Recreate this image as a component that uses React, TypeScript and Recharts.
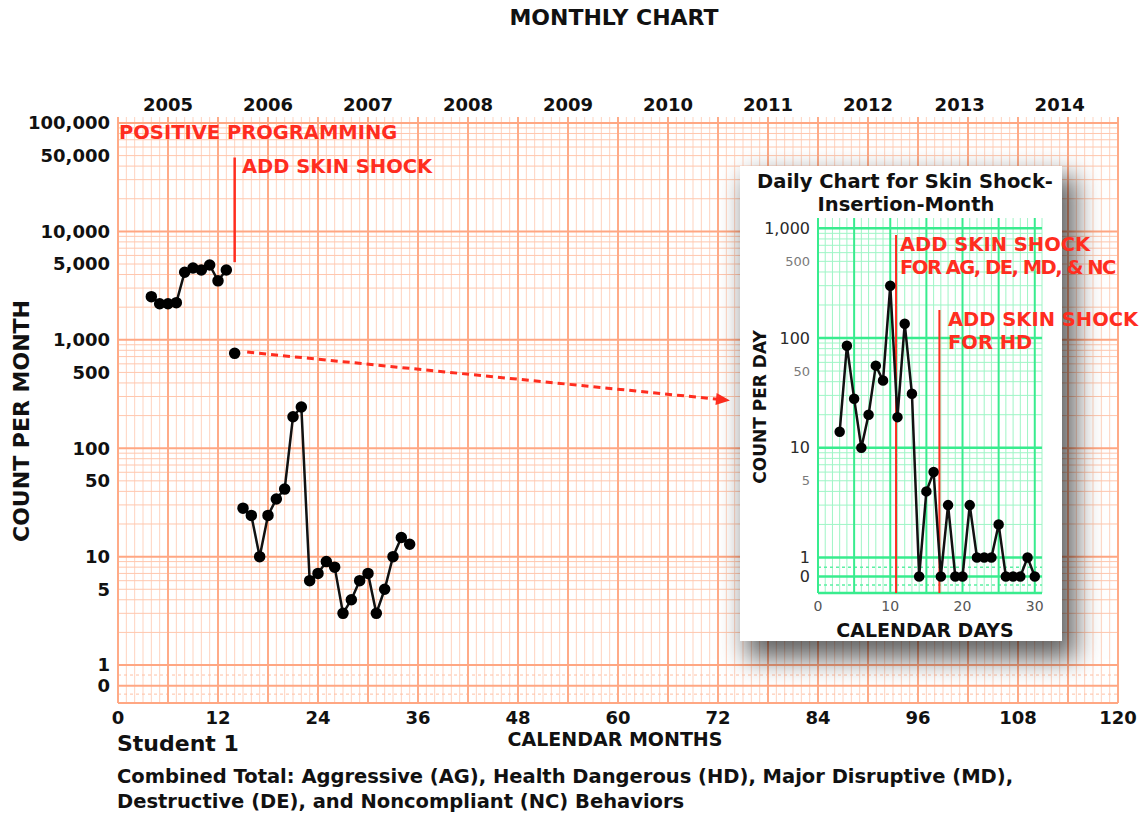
import React from "react";
import {
  ComposedChart,
  Line,
  XAxis,
  YAxis,
  CartesianGrid,
  ReferenceLine,
  ReferenceDot,
} from "recharts";

const FONT = '"DejaVu Sans", sans-serif';
const RED = "#ff2d1f";

// ---- monthly chart data ----
const yearLabels = ["2005", "2006", "2007", "2008", "2009", "2010", "2011", "2012", "2013", "2014"];
const yearTickMonths = [6, 18, 30, 42, 54, 66, 78, 90, 101, 113];
const monthTicks = [0, 12, 24, 36, 48, 60, 72, 84, 96, 108, 120];
const countTickValues = [0, 1, 5, 10, 50, 100, 500, 1000, 5000, 10000, 50000, 100000];

const baselineMonths = [4, 5, 6, 7, 8, 9, 10, 11, 12, 13];
const baselineCounts = [2500, 2150, 2150, 2200, 4200, 4600, 4400, 4900, 3500, 4400];
const insertionMonths = [14];
const insertionCounts = [750];
const shockMonths = [15, 16, 17, 18, 19, 20, 21, 22, 23, 24, 25, 26, 27, 28, 29, 30, 31, 32, 33, 34, 35];
const shockCounts = [28, 24, 10, 24, 34, 42, 195, 240, 6, 7, 9, 8, 3, 4, 6, 7, 3, 5, 10, 15, 13];

// ---- daily (inset) chart data ----
const dayTicks = [0, 10, 20, 30];
const dayCountTicks = [0, 1, 5, 10, 50, 100, 500, 1000];
const days = [3, 4, 5, 6, 7, 8, 9, 10, 11, 12, 13, 14, 15, 16, 17, 18, 19, 20, 21, 22, 23, 24, 25, 26, 27, 28, 29, 30];
const dayCounts = [14, 85, 28, 10, 20, 56, 41, 300, 19, 135, 31, 0, 4, 6, 0, 3, 0, 0, 3, 1, 1, 1, 2, 0, 0, 0, 1, 0];

// log axis with an extra row below 1 for zero counts
const MAIN_ZERO = -0.19;
const MAIN_DOMAIN: [number, number] = [-0.35, 5.055];
const DAY_ZERO = -0.173;
const DAY_DOMAIN: [number, number] = [-0.324, 3.094];

const logRow = (zero: number) => (v: number) => (v > 0 ? Math.log10(v) : zero);
const toMainY = logRow(MAIN_ZERO);
const toDayY = logRow(DAY_ZERO);

const baselineData = baselineMonths.map((m, i) => ({ month: m, y: toMainY(baselineCounts[i]) }));
const insertionData = insertionMonths.map((m, i) => ({ month: m, y: toMainY(insertionCounts[i]) }));
const shockData = shockMonths.map((m, i) => ({ month: m, y: toMainY(shockCounts[i]) }));
const dayData = days.map((d, i) => ({ day: d, y: toDayY(dayCounts[i]) }));

const mainTickPos = countTickValues.map(toMainY);
const dayTickPos = dayCountTicks.map(toDayY);

const fmtCount = (positions: number[], values: number[]) => (v: number) => {
  const i = positions.findIndex((p) => Math.abs(p - v) < 1e-9);
  return i >= 0 ? values[i].toLocaleString("en-US") : "";
};

// grid line helpers (log paper)
const minorLog = (decades: number) => {
  const out: number[] = [];
  for (let d = 0; d < decades; d++) for (let k = 2; k <= 9; k++) out.push(d + Math.log10(k));
  return out;
};
const steps = (from: number, to: number, step: number) => {
  const out: number[] = [];
  for (let v = from; v <= to; v += step) out.push(v);
  return out;
};

const mainMajorX = steps(0, 120, 6);
const mainMinorX = steps(0, 120, 1).filter((m) => m % 6 !== 0);
const mainMajorY = [0, 1, 2, 3, 4, 5];
const mainMinorY = minorLog(5);

const dayMajorX = steps(0, 30, 5);
const dayMinorX = steps(0, 31, 1).filter((d) => d % 5 !== 0);
const dayMajorY = [0, 1, 2, 3];
const dayMinorY = minorLog(3);

const arrowHead = (props: any) => {
  const { cx, cy } = props;
  const a = Math.atan2(46, 477);
  const ux = Math.cos(a), uy = Math.sin(a);
  const nx = -uy, ny = ux;
  const tip = [cx + 7 * ux, cy + 7 * uy];
  const b1 = [cx - 7 * ux + 6 * nx, cy - 7 * uy + 6 * ny];
  const b2 = [cx - 7 * ux - 6 * nx, cy - 7 * uy - 6 * ny];
  return <polygon points={`${tip.join(",")} ${b1.join(",")} ${b2.join(",")}`} fill={RED} />;
};

const DayTick = (props: any) => {
  const { x, y, payload } = props;
  const i = dayTickPos.findIndex((p) => Math.abs(p - payload.value) < 1e-9);
  const v = dayCountTicks[i];
  const minor = v === 5 || v === 50 || v === 500;
  return (
    <text
      x={x}
      y={y}
      dy="0.355em"
      textAnchor="end"
      fontFamily={FONT}
      fontSize={minor ? 13 : 16}
      fill={minor ? "#7a7a7a" : "#2a2a2a"}
    >
      {v.toLocaleString("en-US")}
    </text>
  );
};

function Txt({
  x,
  y,
  size,
  color = "#111",
  center = false,
  rotate = false,
  spacing = 0,
  children,
}: {
  x: number;
  y: number;
  size: number;
  color?: string;
  center?: boolean;
  rotate?: boolean;
  spacing?: number;
  children: React.ReactNode;
}) {
  let transform = center ? "translate(-50%, -50%)" : "translateY(-50%)";
  if (rotate) transform = "translate(-50%, -50%) rotate(-90deg)";
  return (
    <div
      style={{
        position: "absolute",
        left: x,
        top: y,
        transform,
        fontFamily: FONT,
        fontWeight: "bold",
        fontSize: size,
        lineHeight: 1,
        color,
        whiteSpace: "nowrap",
        letterSpacing: spacing,
        zIndex: 5,
      }}
    >
      {children}
    </div>
  );
}

const boldTick = { fontFamily: FONT, fontWeight: "bold", fontSize: 18, fill: "#111" };

export default function App() {
  return (
    <div style={{ position: "absolute", left: 0, top: 0, width: 1147, height: 815, background: "#fff" }}>
      <ComposedChart width={1147} height={815} margin={{ top: 87, right: 29, bottom: 82, left: 0 }}>
        <CartesianGrid horizontal={false} verticalValues={mainMinorX} stroke="#ffd3bf" strokeWidth={1} />
        <CartesianGrid vertical={false} horizontalValues={mainMinorY} stroke="#ffc7ae" strokeWidth={1} />
        <CartesianGrid
          vertical={false}
          horizontalValues={[-0.092, -0.268]}
          stroke="#ffc0a4"
          strokeWidth={1}
          strokeDasharray="3 3"
        />
        <CartesianGrid horizontal={false} verticalValues={mainMajorX} stroke="#ffab88" strokeWidth={2} />
        <CartesianGrid
          vertical={false}
          horizontalValues={[...mainMajorY, MAIN_ZERO, MAIN_DOMAIN[0]]}
          stroke="#ffa783"
          strokeWidth={2}
        />
        <XAxis
          dataKey="month"
          type="number"
          domain={[0, 120]}
          ticks={monthTicks}
          interval={0}
          axisLine={false}
          tickLine={false}
          height={30}
          tick={boldTick}
          allowDataOverflow
        />
        <XAxis
          xAxisId="year"
          orientation="top"
          dataKey="month"
          type="number"
          domain={[0, 120]}
          ticks={yearTickMonths}
          tickFormatter={(v: number) => yearLabels[yearTickMonths.indexOf(v)] ?? ""}
          interval={0}
          axisLine={false}
          tickLine={false}
          tickSize={0}
          tickMargin={6}
          height={30}
          tick={boldTick}
          allowDataOverflow
        />
        <YAxis
          type="number"
          domain={MAIN_DOMAIN}
          ticks={mainTickPos}
          tickFormatter={fmtCount(mainTickPos, countTickValues)}
          interval={0}
          axisLine={false}
          tickLine={false}
          width={118}
          tick={boldTick}
          allowDataOverflow
        />
        <ReferenceLine
          segment={[
            { x: 14, y: toMainY(5200) },
            { x: 14, y: toMainY(48000) },
          ]}
          stroke={RED}
          strokeWidth={2.5}
        />
        <ReferenceLine
          segment={[
            { x: 15.5, y: toMainY(770) },
            { x: 72, y: toMainY(283) },
          ]}
          stroke={RED}
          strokeWidth={3}
          strokeDasharray="7 5"
        />
        <ReferenceDot x={72.6} y={toMainY(280)} r={6} shape={arrowHead} />
        <Line
          data={baselineData}
          dataKey="y"
          stroke="#111"
          strokeWidth={2.5}
          dot={{ r: 4.5, fill: "#000", stroke: "#000" }}
          activeDot={false}
          isAnimationActive={false}
        />
        <Line
          data={insertionData}
          dataKey="y"
          stroke="#111"
          strokeWidth={2.5}
          dot={{ r: 4.5, fill: "#000", stroke: "#000" }}
          activeDot={false}
          isAnimationActive={false}
        />
        <Line
          data={shockData}
          dataKey="y"
          stroke="#111"
          strokeWidth={2.5}
          dot={{ r: 4.5, fill: "#000", stroke: "#000" }}
          activeDot={false}
          isAnimationActive={false}
        />
      </ComposedChart>

      <Txt x={614} y={18} size={22} center>MONTHLY CHART</Txt>
      <Txt x={119} y={133} size={19.5} color={RED}>POSITIVE PROGRAMMING</Txt>
      <Txt x={242} y={167} size={19.5} color={RED}>ADD SKIN SHOCK</Txt>
      <Txt x={22} y={421} size={22} rotate>COUNT PER MONTH</Txt>
      <Txt x={615} y={739} size={19} center>CALENDAR MONTHS</Txt>
      <Txt x={117} y={744} size={22}>Student 1</Txt>
      <Txt x={117} y={777} size={19.5}>
        Combined Total: Aggressive (AG), Health Dangerous (HD), Major Disruptive (MD),
      </Txt>
      <Txt x={117} y={802} size={19.5}>
        Destructive (DE), and Noncompliant (NC) Behaviors
      </Txt>

      {/* inset: daily chart */}
      <div
        style={{
          position: "absolute",
          left: 740,
          top: 166,
          width: 322,
          height: 475,
          background: "#fff",
          boxShadow: "10px 14px 24px 4px rgba(0,0,0,0.6)",
          zIndex: 3,
        }}
      >
        <ComposedChart width={322} height={475} margin={{ top: 52, right: 20, bottom: 34, left: 0 }}>
          <CartesianGrid horizontal={false} verticalValues={dayMinorX} stroke="#9ff5c6" strokeWidth={1} />
          <CartesianGrid vertical={false} horizontalValues={dayMinorY} stroke="#9ff5c6" strokeWidth={1} />
          <CartesianGrid
            vertical={false}
            horizontalValues={[-0.09, -0.25]}
            stroke="#5cf0a4"
            strokeWidth={1.5}
            strokeDasharray="3 3"
          />
          <CartesianGrid horizontal={false} verticalValues={dayMajorX} stroke="#38ec8e" strokeWidth={2} />
          <CartesianGrid
            vertical={false}
            horizontalValues={[...dayMajorY, DAY_ZERO, DAY_DOMAIN[0]]}
            stroke="#38ec8e"
            strokeWidth={2.5}
          />
          <XAxis
            dataKey="day"
            type="number"
            domain={[0, 31]}
            ticks={dayTicks}
            interval={0}
            axisLine={false}
            tickLine={false}
            tickMargin={2}
            height={14}
            tick={{ fontFamily: FONT, fontSize: 14, fill: "#555" }}
            allowDataOverflow
          />
          <YAxis
            type="number"
            domain={DAY_DOMAIN}
            ticks={dayTickPos}
            interval={0}
            axisLine={false}
            tickLine={false}
            width={78}
            tick={<DayTick />}
            allowDataOverflow
          />
          <ReferenceLine
            segment={[
              { x: 10.8, y: DAY_DOMAIN[0] },
              { x: 10.8, y: toDayY(870) },
            ]}
            stroke={RED}
            strokeWidth={2}
          />
          <ReferenceLine
            segment={[
              { x: 16.8, y: DAY_DOMAIN[0] },
              { x: 16.8, y: toDayY(180) },
            ]}
            stroke={RED}
            strokeWidth={2}
          />
          <Line
            data={dayData}
            dataKey="y"
            stroke="#111"
            strokeWidth={2.5}
            dot={{ r: 4, fill: "#000", stroke: "#000" }}
            activeDot={false}
            isAnimationActive={false}
          />
        </ComposedChart>
      </div>

      <Txt x={905} y={182} size={19.5} center>Daily Chart for Skin Shock-</Txt>
      <Txt x={906} y={205} size={19.5} center>Insertion-Month</Txt>
      <Txt x={760} y={407} size={17} rotate>COUNT PER DAY</Txt>
      <Txt x={925} y={630} size={19} center>CALENDAR DAYS</Txt>
      <Txt x={900} y={245} size={19.5} color={RED}>ADD SKIN SHOCK</Txt>
      <Txt x={900} y={268} size={19.5} color={RED} spacing={-1.5}>FOR AG, DE, MD, &amp; NC</Txt>
      <Txt x={948} y={320} size={19.5} color={RED}>ADD SKIN SHOCK</Txt>
      <Txt x={948} y={343} size={19.5} color={RED}>FOR HD</Txt>
    </div>
  );
}
